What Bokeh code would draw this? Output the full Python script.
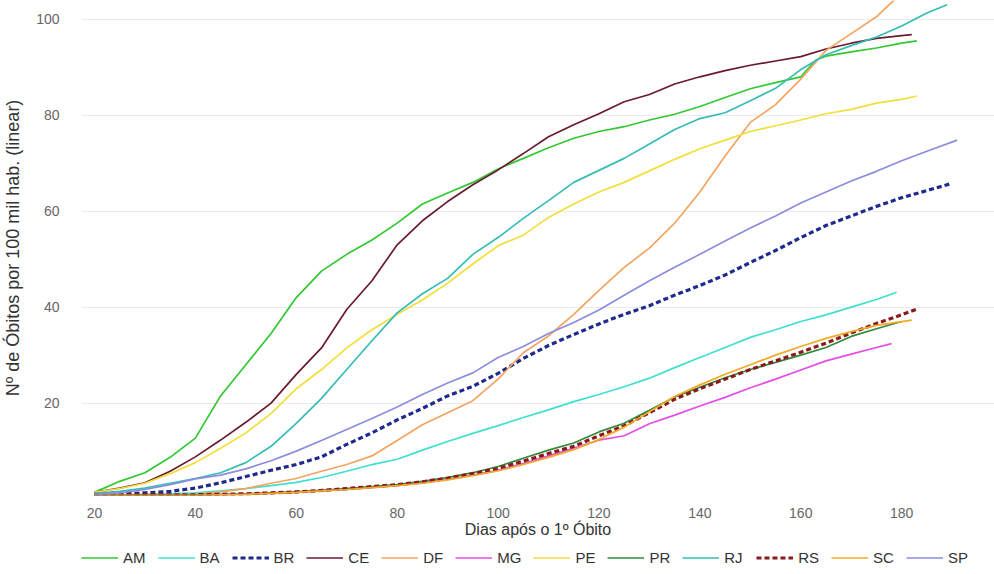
from bokeh.plotting import figure
from bokeh.layouts import column
from bokeh.models import Legend, LegendItem, Range1d, FixedTicker
from bokeh.embed import file_html
from bokeh.resources import INLINE

# ---- data ----
d5 = list(range(20, 181, 5))  # 20, 25, ..., 180

am_x = d5[:29] + [163, 165, 170, 175, 180, 183]
am_y = [1.4, 3.7, 5.5, 8.7, 12.7, 21.5, 28, 34.5, 42, 47.5, 51, 54, 57.5, 61.5, 63.8, 66, 68.8,
        71, 73.2, 75.2, 76.6, 77.6, 79, 80.2, 81.8, 83.7, 85.5, 86.8, 88, 91.5, 92.3, 93.2, 94, 95, 95.5]

ba_x = d5[:32] + [179]
ba_y = [0.9, 0.9, 1.0, 1.1, 1.3, 1.7, 2.2, 2.8, 3.5, 4.5, 5.8, 7.2, 8.3, 10.2, 12.0, 13.7, 15.3,
        17.0, 18.6, 20.3, 21.8, 23.4, 25.2, 27.4, 29.5, 31.6, 33.7, 35.3, 37.0, 38.4, 40.0, 41.6, 43.1]

br_x = d5 + [185, 190]
br_y = [1.0, 1.1, 1.3, 1.6, 2.3, 3.4, 4.7, 6.0, 7.2, 8.8, 11.4, 13.8, 16.5, 18.9, 21.5, 23.5, 26.2,
        29.3, 32.0, 34.3, 36.5, 38.5, 40.3, 42.5, 44.5, 46.7, 49.3, 51.8, 54.5, 57.0, 59.0, 61.0,
        62.8, 64.3, 65.8]

ce_x = d5 + [182]
ce_y = [1.4, 2.3, 3.4, 5.8, 8.8, 12.3, 16, 20, 26, 31.5, 39.5, 45.5, 53, 58, 62, 65.5, 68.6, 72,
        75.5, 78, 80.3, 82.8, 84.3, 86.5, 88, 89.3, 90.4, 91.3, 92.2, 93.8, 95, 96, 96.6, 96.8]

df_x = d5[:32] + [178.5]
df_y = [0.9, 0.9, 0.9, 0.9, 1.0, 1.5, 2.2, 3.3, 4.3, 5.8, 7.2, 9.0, 12.2, 15.5, 18.0, 20.5, 25.0,
        30.5, 34.0, 38.5, 43.5, 48.3, 52.3, 57.5, 64.0, 71.5, 78.5, 82.2, 87.5, 93.5, 97.0, 100.5, 104]

mg_x = d5[:32] + [178]
mg_y = [0.8, 0.8, 0.8, 0.8, 0.8, 0.9, 1.0, 1.2, 1.4, 1.7, 2.0, 2.4, 2.8, 3.4, 4.1, 5.0, 6.0, 7.4,
        9.0, 10.6, 12.3, 13.2, 15.7, 17.5, 19.4, 21.2, 23.2, 25.0, 26.9, 28.8, 30.2, 31.6, 32.4]

pe_x = d5 + [183]
pe_y = [1.4, 2.2, 3.3, 5.3, 7.6, 10.6, 13.8, 17.8, 23, 27, 31.5, 35.3, 38.5, 41.5, 45, 49, 52.8,
        55, 58.7, 61.5, 64, 66, 68.4, 70.8, 73, 74.8, 76.6, 77.8, 79, 80.3, 81.2, 82.5, 83.3, 84]

pr_x = d5
pr_y = [0.9, 0.9, 0.9, 0.9, 0.9, 1.0, 1.1, 1.3, 1.5, 1.8, 2.2, 2.6, 3.0, 3.7, 4.5, 5.5, 6.8, 8.5,
        10.2, 11.7, 14.0, 15.8, 18.5, 21.3, 23.3, 25.3, 27.0, 28.5, 30.0, 31.6, 33.9, 35.5, 37.0]

rj_x = d5 + [185, 189]
rj_y = [1.2, 1.6, 2.3, 3.3, 4.3, 5.5, 7.6, 11, 15.8, 21, 27, 33, 38.8, 42.8, 46, 51, 54.5, 58.5,
        62.2, 66, 68.5, 71, 74, 77, 79.3, 80.5, 83, 85.6, 89.5, 92.6, 94.5, 96.3, 98.6, 101.3, 103]

rs_x = d5 + [183]
rs_y = [0.9, 0.9, 0.9, 0.9, 0.9, 1.0, 1.1, 1.3, 1.5, 1.8, 2.2, 2.6, 3.0, 3.6, 4.4, 5.3, 6.4, 7.9,
        9.5, 11.0, 13.2, 15.3, 18.0, 20.8, 23.0, 25.0, 27.0, 28.8, 30.6, 32.5, 34.6, 36.6, 38.4, 39.6]

sc_x = d5 + [182]
sc_y = [0.8, 0.8, 0.8, 0.8, 0.8, 0.9, 1.0, 1.2, 1.4, 1.7, 2.0, 2.4, 2.8, 3.3, 4.0, 4.9, 5.9, 7.2,
        8.7, 10.3, 12.4, 15.0, 18.2, 21.4, 23.8, 26.0, 28.0, 30.0, 31.8, 33.5, 34.9, 36.2, 37.0, 37.3]

sp_x = d5 + [185, 191]
sp_y = [1.0, 1.3, 2.0, 3.0, 4.2, 5.0, 6.3, 8.0, 10.0, 12.2, 14.5, 16.8, 19.2, 21.8, 24.2, 26.3,
        29.5, 31.8, 34.5, 36.8, 39.4, 42.5, 45.5, 48.3, 51.0, 53.8, 56.5, 59.0, 61.7, 64.0, 66.3,
        68.3, 70.5, 72.5, 74.8]

x_ticks = [20, 40, 60, 80, 100, 120, 140, 160, 180, 200]
y_ticks = [20, 40, 60, 80, 100]

series = [
    ("AM", am_x, am_y, "#33c833", None),
    ("BA", ba_x, ba_y, "#40e0d0", None),
    ("BR", br_x, br_y, "#1f2a8f", "dashed"),
    ("CE", ce_x, ce_y, "#6a1b2e", None),
    ("DF", df_x, df_y, "#f4a460", None),
    ("MG", mg_x, mg_y, "#e64ce6", None),
    ("PE", pe_x, pe_y, "#f2df3a", None),
    ("PR", pr_x, pr_y, "#2f8a3b", None),
    ("RJ", rj_x, rj_y, "#35bdb5", None),
    ("RS", rs_x, rs_y, "#8b1a1a", "dashed"),
    ("SC", sc_x, sc_y, "#f0aa28", None),
    ("SP", sp_x, sp_y, "#8c8ce0", None),
]

FONT = "Liberation Sans"
W = 994
H_MAIN = 540
H_LEG = 34

p = figure(width=W, height=H_MAIN, output_backend="svg", toolbar_location=None,
           x_range=Range1d(17.43, 198.4), y_range=Range1d(0.75, 103.9),
           min_border_left=80, min_border_right=0, min_border_top=0, min_border_bottom=42,
           background_fill_color="white", border_fill_color="white")
p.outline_line_color = None

for name, xs, ys, col, dash in series:
    if dash:
        p.line(xs, ys, line_color=col, line_width=3.2, line_dash="5 3")
    else:
        p.line(xs, ys, line_color=col, line_width=1.7)

p.xgrid.grid_line_color = None
p.ygrid.ticker = FixedTicker(ticks=y_ticks)
p.ygrid.grid_line_color = "#ebebeb"
p.ygrid.grid_line_width = 1

p.xaxis.ticker = FixedTicker(ticks=x_ticks)
p.yaxis.ticker = FixedTicker(ticks=y_ticks)
for ax in (p.xaxis, p.yaxis):
    ax.axis_line_color = None
    ax.major_tick_line_color = None
    ax.minor_tick_line_color = None
    ax.major_label_text_font = FONT
    ax.major_label_text_font_size = "14px"
    ax.major_label_text_color = "#666666"
    ax.axis_label_text_font = FONT
    ax.axis_label_text_font_style = "normal"
    ax.axis_label_text_color = "#333333"

p.xaxis.axis_label = "Dias após o 1º Óbito"
p.xaxis.axis_label_text_font_size = "16px"
p.xaxis.major_label_standoff = 6
p.xaxis.axis_label_standoff = 0

p.yaxis.axis_label = "Nº de Óbitos por 100 mil hab. (linear)"
p.yaxis.axis_label_text_font_size = "18px"
p.yaxis.major_label_standoff = 16
p.yaxis.axis_label_standoff = 10

# ---- legend strip below the chart (series drawn outside its view; only the legend shows) ----
lg = figure(width=W, height=H_LEG, output_backend="svg", toolbar_location=None,
            x_axis_type=None, y_axis_type=None,
            x_range=Range1d(0, 1), y_range=Range1d(0, 1),
            min_border_left=0, min_border_right=0, min_border_top=0, min_border_bottom=0,
            background_fill_color="white", border_fill_color="white")
lg.outline_line_color = None

items = []
for name, xs, ys, col, dash in series:
    if dash:
        r = lg.line(xs, ys, line_color=col, line_width=3.2, line_dash="5 3")
    else:
        r = lg.line(xs, ys, line_color=col, line_width=1.7)
    items.append(LegendItem(label=name, renderers=[r]))

legend = Legend(items=items, orientation="horizontal", location="center_left",
                glyph_width=37, glyph_height=16, label_standoff=5, spacing=12,
                label_text_font=FONT, label_text_font_size="15px", label_text_color="#333333",
                border_line_color=None, background_fill_alpha=0, margin=0, padding=1)
lg.add_layout(legend)

layout = column(p, lg, spacing=0)
open("out.html", "w").write(file_html(layout, INLINE))
